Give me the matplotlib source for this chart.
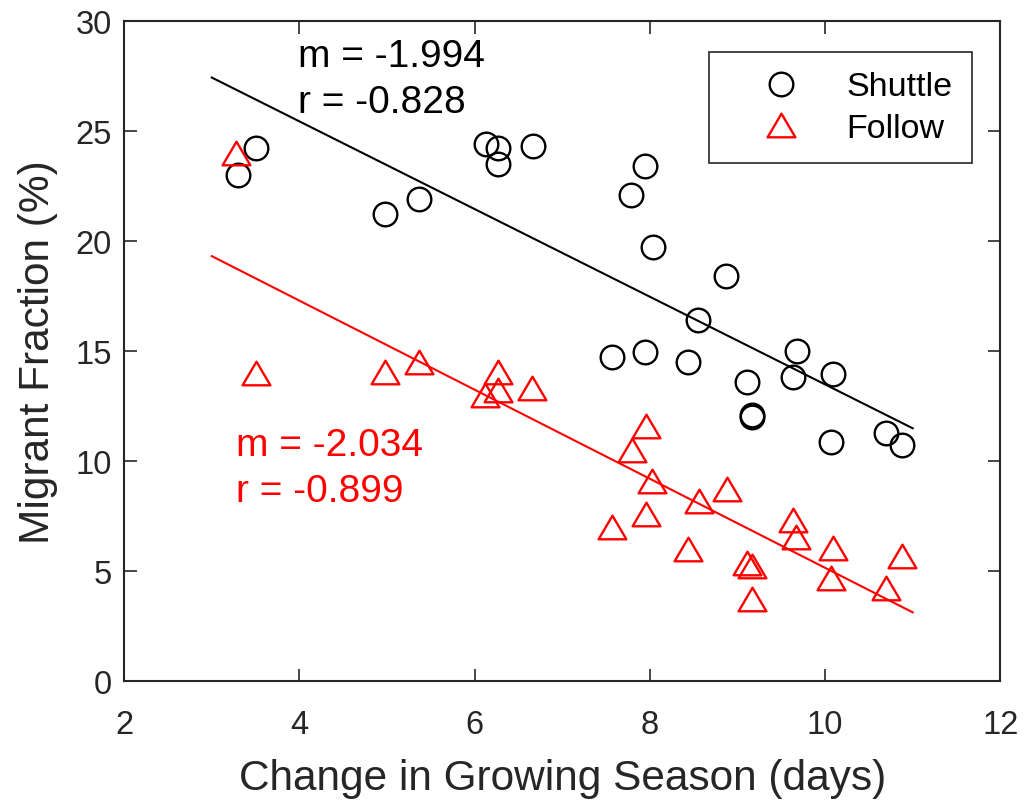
import numpy as np
import matplotlib
matplotlib.use("Agg")
import matplotlib.pyplot as plt
from matplotlib.path import Path

# --- data ---
shuttle_x = [3.30, 3.51, 4.98, 5.36, 6.13, 6.27, 6.27, 6.67, 7.57, 7.79, 7.95, 7.95,
             8.04, 8.43, 8.55, 8.87, 9.11, 9.16, 9.16, 9.63, 9.68, 10.07, 10.09, 10.69, 10.88]
shuttle_y = [23.0, 24.2, 21.2, 21.9, 24.4, 24.2, 23.5, 24.3, 14.7, 22.1, 23.4, 14.95,
             19.7, 14.5, 16.4, 18.4, 13.6, 12.1, 12.0, 13.8, 15.0, 10.85, 13.95, 11.25, 10.7]

follow_x = [3.28, 3.51, 4.98, 5.36, 6.12, 6.27, 6.27, 6.66, 7.57, 7.80, 7.96, 7.96,
            8.03, 8.43, 8.56, 8.88, 9.11, 9.17, 9.17, 9.63, 9.67, 10.07, 10.09, 10.69, 10.88]
follow_y = [24.0, 14.0, 14.05, 14.5, 13.0, 14.05, 13.2, 13.3, 7.0, 10.5, 11.6, 7.6,
            9.1, 6.0, 8.15, 8.7, 5.35, 5.2, 3.7, 7.3, 6.55, 4.65, 6.05, 4.2, 5.65]

fit_x = [3, 11]
shuttle_stats = ["m = -1.994", "r = -0.828"]
follow_stats = ["m = -2.034", "r = -0.899"]

plt.rcParams['font.family'] = ['Liberation Sans', 'DejaVu Sans']

# wide triangle like MATLAB
tri = Path([(0, 0.85), (-1, -0.85), (1, -0.85), (0, 0.85)],
           [Path.MOVETO, Path.LINETO, Path.LINETO, Path.CLOSEPOLY])

fig = plt.figure(figsize=(10.26, 8.04), dpi=100)
ax = fig.add_axes([0.121, 0.152, 0.854, 0.821])

red = '#ff0000'
dark = '#262626'
ax.plot(shuttle_x, shuttle_y, 'o', ms=17, mfc='none', mec='black', mew=1.7, label='Shuttle')
ax.plot(follow_x, follow_y, marker=tri, ls='none', ms=20, mfc='none', mec=red, mew=1.7,
        label='Follow')

# least-squares fit lines
p_s = np.polyfit(shuttle_x, shuttle_y, 1)
p_f = np.polyfit(follow_x, follow_y, 1)
fx = np.array(fit_x)
ax.plot(fx, np.polyval(p_s, fx), color='black', lw=1.5)
ax.plot(fx, np.polyval(p_f, fx), color=red, lw=1.5)

ax.text(3.98, 27.95, shuttle_stats[0], fontsize=28, color='black', va='baseline')
ax.text(3.98, 25.86, shuttle_stats[1], fontsize=28, color='black', va='baseline')
ax.text(3.28, 10.27, follow_stats[0], fontsize=28, color=red, va='baseline')
ax.text(3.28, 8.18, follow_stats[1], fontsize=28, color=red, va='baseline')

ax.set_xlim(2, 12)
ax.set_ylim(0, 30)
ax.set_xticks([2, 4, 6, 8, 10, 12])
ax.set_yticks([0, 5, 10, 15, 20, 25, 30])
ax.tick_params(direction='in', length=9, width=1.2, labelsize=23.5, colors=dark,
               top=True, right=True)
ax.tick_params(axis='x', pad=20)
ax.tick_params(axis='y', pad=9)
for s in ax.spines.values():
    s.set_linewidth(1.5)
    s.set_color(dark)
ax.set_xlabel('Change in Growing Season (days)', fontsize=30.5, color=dark, labelpad=13)
ax.set_ylabel('Migrant Fraction (%)', fontsize=30.5, color=dark, labelpad=12)

leg = ax.legend(loc='upper right', bbox_to_anchor=(0.968, 0.953), fontsize=24.5,
                fancybox=False, edgecolor=dark, framealpha=1, borderpad=0.58,
                handletextpad=0.37, labelspacing=0.3, handlelength=3.1, borderaxespad=0)
leg.get_frame().set_linewidth(1.2)

fig.savefig('out.png', dpi=100)
